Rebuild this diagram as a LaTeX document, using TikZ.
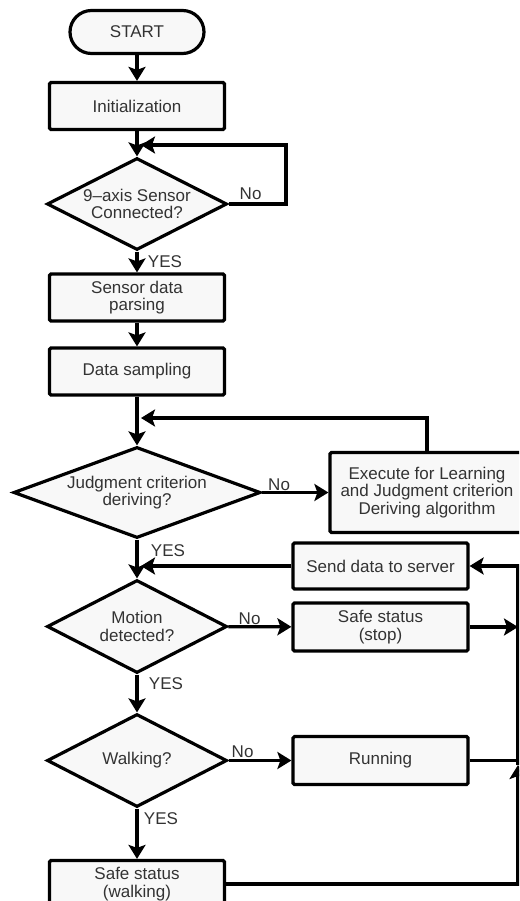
\documentclass[tikz,border=0pt]{standalone}
\usepackage{fontspec}
\setmainfont{Liberation Sans}
\usepackage{tikz}
\usetikzlibrary{arrows.meta,shapes.geometric}
\definecolor{txtgray}{HTML}{333333}
\definecolor{boxbg}{HTML}{F8F8F8}
\tikzset{
  ln/.style={line width=3.2pt,black},
  ar/.style={ln,-{Stealth[length=14pt,width=17pt,inset=3pt]}},
  proc/.style={draw,line width=3.2pt,fill=boxbg,align=center,text=txtgray,minimum width=175pt,minimum height=47pt,inner sep=2pt,rounded corners=1.5pt},
  term/.style={draw,line width=3.2pt,fill=boxbg,text=txtgray,minimum width=134pt,minimum height=43pt,rounded corners=21.5pt},
  dec/.style={diamond,draw,line width=3.2pt,fill=boxbg,align=center,text=txtgray,inner sep=0pt,aspect=2.2},
  lab/.style={text=txtgray,inner sep=0pt}
}
\begin{document}
\begin{tikzpicture}[x=1pt,y=-1pt,font=\fontsize{17}{17.5}\selectfont]
\useasboundingbox (0,0) rectangle (519,901);
\clip (0,0) rectangle (519,901);
% main column
\node[term] (start) at (137,32) {START};
\node[proc] (init) at (137,106) {Initialization};
\node[dec,minimum width=180pt,minimum height=92pt] (conn) at (137,204) {9–axis Sensor\\Connected?};
\node[proc] (parse) at (137,297.5) {Sensor data\\parsing};
\node[proc] (samp) at (137,371.5) {Data sampling};
\node[dec,aspect=2.7,minimum width=247pt,minimum height=91pt] (judge) at (137,492.5) {Judgment criterion\\deriving?};
\node[dec,minimum width=180pt,minimum height=93pt] (motion) at (137,626.5) {Motion\\detected?};
\node[dec,minimum width=180pt,minimum height=93pt] (walkq) at (137,760.5) {Walking?};
\node[proc] (safew) at (137,884) {Safe status\\(walking)};
% right column
\node[proc,minimum width=194pt,minimum height=80pt] (exec) at (427,492.5) {Execute for Learning\\and Judgment criterion\\Deriving algorithm};
\node[proc,minimum height=46pt] (send) at (380.5,566) {Send data to server};
\node[proc,minimum height=48pt] (stop) at (380.5,627) {Safe status\\(stop)};
\node[proc,minimum height=48pt] (run) at (380.5,760.5) {Running};
% return points
\coordinate (c1) at (286,145);
\coordinate (lp1) at (141,145);
\coordinate (lp2) at (141,418);
\coordinate (lp3) at (141,566);
\coordinate (bup) at (518,765);
% main flow
\draw[ar] (start) -- (init);
\draw[ar] (init) -- (conn);
\draw[ar] (conn) -- (parse);
\draw[ar] (parse) -- (samp);
\draw[ar] (samp) -- (judge);
\draw[ar] (judge) -- (motion);
\draw[ar] (motion) -- (walkq);
\draw[ar] (walkq) -- (safew);
% branches
\draw[ar] (conn.east) -| (c1) -- (lp1);
\draw[ar] (judge) -- (exec);
\draw[ar] (exec.north) |- (lp2);
\draw[ar] (send.west) -- (lp3);
\draw[ar] (motion) -- (stop);
\draw[ar] (walkq) -- (run);
\draw[ar] (stop.east) -- (stop.east -| bup);
\draw[ln] (run.east) -- (run.east -| bup);
\draw[ar] (safew.east) -| (bup);
\draw[ar] (bup) |- (send.east);
% labels
\node[lab] at ([xshift=22pt,yshift=10pt]conn.east) {No};
\node[lab] at ([xshift=28pt,yshift=-10pt]conn.south) {YES};
\node[lab] at ([xshift=17pt,yshift=8pt]judge.east) {No};
\node[lab] at ([xshift=31pt,yshift=-11pt]judge.south) {YES};
\node[lab] at ([xshift=21pt,yshift=8pt]motion.east) {No};
\node[lab] at ([xshift=29pt,yshift=-9pt]motion.south) {YES};
\node[lab] at ([xshift=14pt,yshift=9pt]walkq.east) {No};
\node[lab] at ([xshift=24pt,yshift=-10pt]walkq.south) {YES};
\end{tikzpicture}
\end{document}
